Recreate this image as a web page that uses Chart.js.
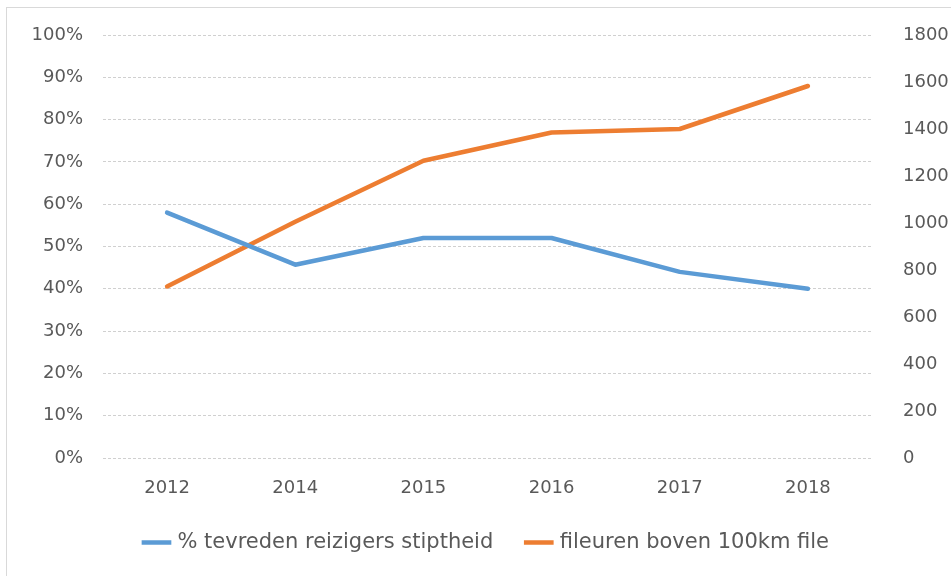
<!DOCTYPE html>
<html>
<head>
<meta charset="utf-8">
<script src="https://cdn.jsdelivr.net/npm/chart.js@4"></script>
<style>
  html, body { margin: 0; padding: 0; background: #fff; }
  .wrap { width: 951px; height: 576px; position: relative; }
</style>
</head>
<body>
<div class="wrap"><canvas id="chart" width="951" height="576"></canvas></div>
<script>
const years = ["2012", "2014", "2015", "2016", "2017", "2018"];
const tevreden = [0.58, 0.457, 0.52, 0.52, 0.44, 0.40];
const fileuren = [730, 1005, 1265, 1385, 1400, 1583];
const seriesNames = ["% tevreden reizigers stiptheid", "fileuren boven 100km file"];

const textColor = "#595959";
const fontFamily = "'DejaVu Sans', sans-serif";
Chart.defaults.font.family = fontFamily;
Chart.defaults.font.size = 18;
Chart.defaults.color = textColor;

// light grey frame round the whole chart, like the spreadsheet export
const frame = {
  id: "frame",
  beforeDraw(chart) {
    const ctx = chart.ctx;
    ctx.save();
    ctx.strokeStyle = "#d9d9d9";
    ctx.lineWidth = 1;
    ctx.strokeRect(6.5, 7.5, chart.width - 6, chart.height);
    ctx.restore();
  }
};

// fixed axis sizes so the plot area sits where it does in the original
function fixWidth(w) {
  return s => { s.width = w; s.paddingTop = 0; s.paddingBottom = 0; };
}

new Chart(document.getElementById("chart"), {
  type: "line",
  data: {
    labels: years,
    datasets: [{
      label: seriesNames[0],
      data: tevreden,
      borderColor: "#5B9BD5",
      backgroundColor: "#5B9BD5",
      borderWidth: 4.5,
      pointRadius: 0,
      borderCapStyle: "round",
      borderJoinStyle: "round",
      yAxisID: "y"
    }, {
      label: seriesNames[1],
      data: fileuren,
      borderColor: "#ED7D31",
      backgroundColor: "#ED7D31",
      borderWidth: 4.5,
      pointRadius: 0,
      borderCapStyle: "round",
      borderJoinStyle: "round",
      yAxisID: "y1"
    }]
  },
  options: {
    responsive: false,
    animation: false,
    layout: { padding: { top: 35, right: 0, bottom: 13, left: 0 } },
    scales: {
      x: {
        offset: true,
        afterFit: s => { s.height = 39; s.paddingLeft = 0; s.paddingRight = 0; },
        grid: { display: false, drawTicks: false },
        border: { display: false },
        ticks: { padding: 21, maxRotation: 0, font: { lineHeight: 1 } }
      },
      y: {
        position: "left",
        min: 0,
        max: 1,
        afterFit: fixWidth(103),
        ticks: {
          stepSize: 0.1,
          padding: 20,
          callback: v => Math.round(v * 100) + "%"
        },
        grid: { color: "#d0d0d0", drawTicks: false },
        border: { display: false, dash: [3, 2] }
      },
      y1: {
        position: "right",
        min: 0,
        max: 1800,
        afterFit: fixWidth(79),
        ticks: { stepSize: 200, padding: 31, callback: v => String(v) },
        grid: { display: false, drawTicks: false },
        border: { display: false }
      }
    },
    plugins: {
      legend: {
        position: "bottom",
        fullSize: false,
        labels: {
          usePointStyle: true,
          pointStyle: "line",
          boxWidth: 28,
          padding: 35,
          color: textColor,
          font: { size: 21 }
        }
      },
      tooltip: { enabled: false }
    }
  },
  plugins: [frame]
});
</script>
</body>
</html>
